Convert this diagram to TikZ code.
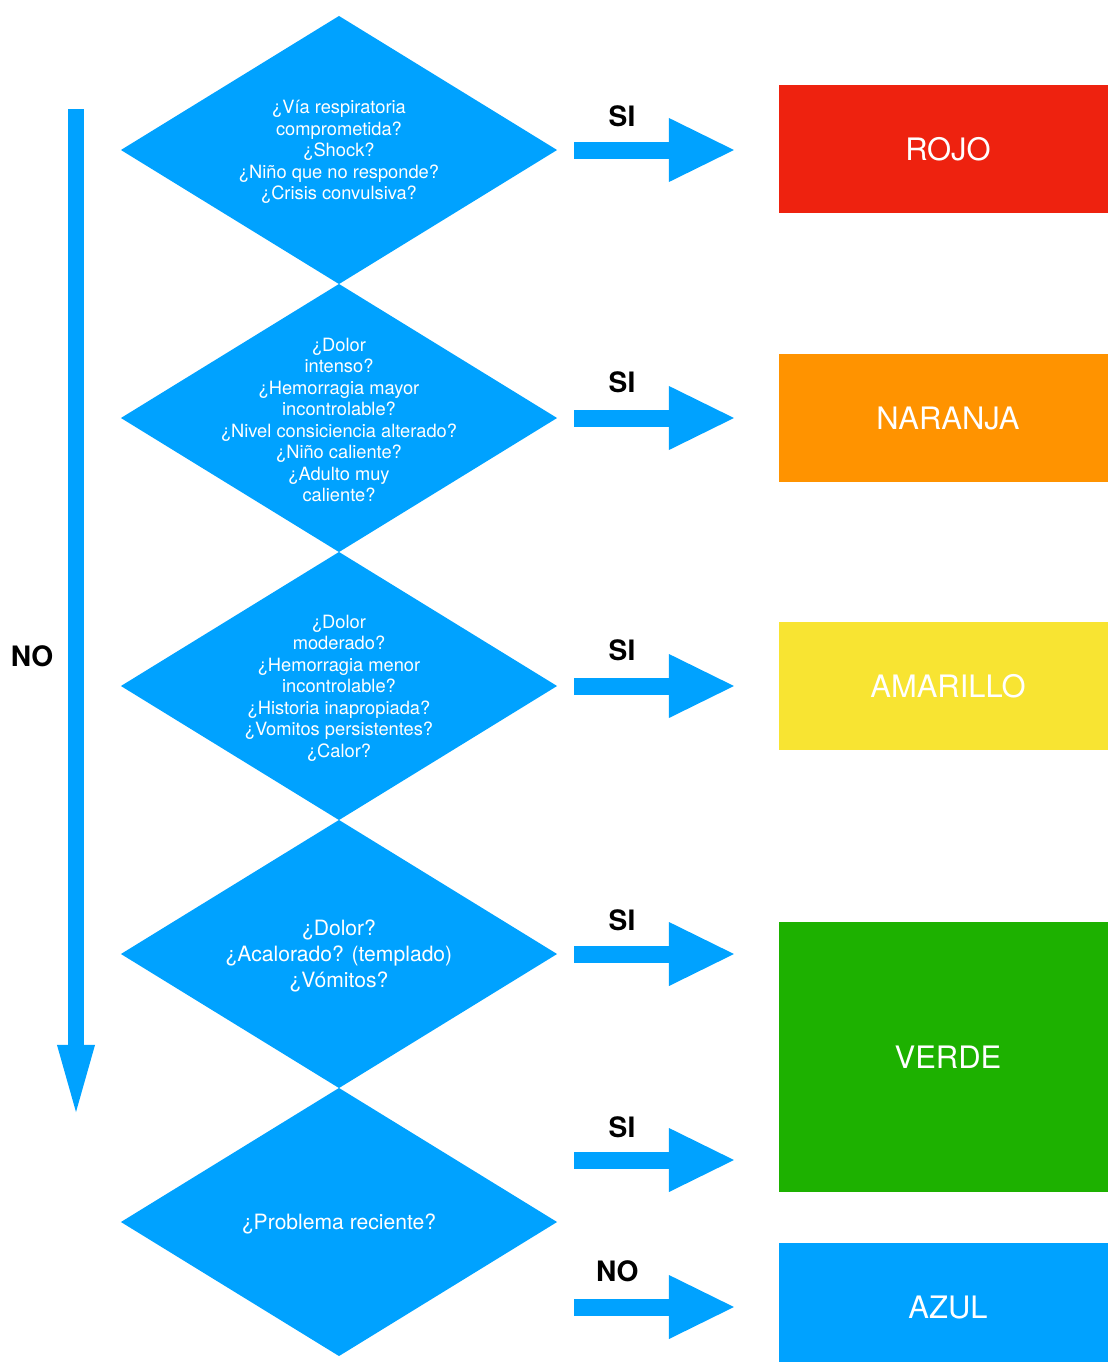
\documentclass[tikz,border=0pt]{standalone}
\usepackage{fontspec}
\setmainfont{TeX Gyre Heros}
\usetikzlibrary{shapes.geometric, arrows.meta, calc}
\definecolor{tri-blue}{HTML}{00A2FF}
\definecolor{tri-red}{HTML}{EE220F}
\definecolor{tri-orange}{HTML}{FF9300}
\definecolor{tri-yellow}{HTML}{F8E432}
\definecolor{tri-green}{HTML}{1DB100}
\tikzset{
    my-decision/.style={
        diamond, fill=tri-blue, minimum width=10.9cm, minimum height=6.7cm, inner sep=0pt, outer sep=0pt
    },
    my-question/.style={
        text=white, align=center, font=\fontsize{13}{15.3}\selectfont, yshift=-0.05cm
    },
    my-level/.style={
        rectangle, minimum width=8.45cm, minimum height=3.2cm, inner sep=0pt, outer sep=0pt,
        text=white, font=\fontsize{22}{26}\selectfont
    },
    my-fat-arrow/.style={
        draw=tri-blue, line width=0.425cm, -{Triangle[length=1.625cm, width=1.6cm, line width=0pt]}
    },
    my-down-arrow/.style={
        draw=tri-blue, line width=0.375cm, -{Triangle[length=1.675cm, width=0.95cm, line width=0pt]}
    },
    my-answer/.style={
        font=\bfseries\fontsize{20}{24}\selectfont
    },
}

\begin{document}
\begin{tikzpicture}[x=0.025cm, y=-0.025cm]

        \useasboundingbox (0, 0) rectangle (1107, 1362);

        % DECISIONS ------------------------------------------------------------------------------------
        \node[my-decision] (D1) at (339, 150)          {};
        \node[my-decision] (D2) at ($(D1) + (0, 268)$) {};
        \node[my-decision] (D3) at ($(D2) + (0, 268)$) {};
        \node[my-decision] (D4) at ($(D3) + (0, 268)$) {};
        \node[my-decision] (D5) at ($(D4) + (0, 268)$) {};

        % QUESTIONS
        \node[my-question] (D1TXT) at (D1) {¿Vía respiratoria\\comprometida?\\¿Shock?\\¿Niño que no responde?\\¿Crisis convulsiva?};
        \node[my-question] (D2TXT) at (D2) {¿Dolor\\intenso?\\¿Hemorragia mayor\\incontrolable?\\¿Nivel consiciencia alterado?\\¿Niño caliente?\\¿Adulto muy\\caliente?};
        \node[my-question] (D3TXT) at (D3) {¿Dolor\\moderado?\\¿Hemorragia menor\\incontrolable?\\¿Historia inapropiada?\\¿Vomitos persistentes?\\¿Calor?};
        \node[my-question, font=\fontsize{15}{18.8}\selectfont] (D4TXT) at (D4) {¿Dolor?\\¿Acalorado? (templado)\\¿Vómitos?};
        \node[my-question, font=\fontsize{15}{18.8}\selectfont] (D5TXT) at (D5) {¿Problema reciente?};

        % LEVELS ---------------------------------------------------------------------------------------
        \node[my-level, fill=tri-red]    (ROJO)     at (948, 149)  {ROJO};
        \node[my-level, fill=tri-orange] (NARANJA)  at (948, 418)  {NARANJA};
        \node[my-level, fill=tri-yellow] (AMARILLO) at (948, 686)  {AMARILLO};
        \node[my-level, fill=tri-green, minimum height=6.75cm] (VERDE) at (948, 1057) {VERDE};
        \node[my-level, fill=tri-blue] (AZUL) at (948, 1307) {AZUL};

        % SI ARROWS ------------------------------------------------------------------------------------
        \draw[my-fat-arrow] ($(D1.east) + (17, 0)$) -- ($(ROJO.west |- D1.east) + (-45, 0)$)
            node[my-answer, pos=.3, yshift=0.85cm] {SI};
        \draw[my-fat-arrow] ($(D2.east) + (17, 0)$) -- ($(NARANJA.west |- D2.east) + (-45, 0)$)
            node[my-answer, pos=.3, yshift=0.9cm] {SI};
        \draw[my-fat-arrow] ($(D3.east) + (17, 0)$) -- ($(AMARILLO.west |- D3.east) + (-45, 0)$)
            node[my-answer, pos=.3, yshift=0.9cm] {SI};
        \draw[my-fat-arrow] ($(D4.east) + (17, 0)$) -- ($(VERDE.west |- D4.east) + (-45, 0)$)
            node[my-answer, pos=.3, yshift=0.85cm] {SI};
        \draw[my-fat-arrow] ($(D5.east) + (17, -62)$) -- ($(VERDE.west |- D5.east) + (-45, -62)$)
            node[my-answer, pos=.3, yshift=0.825cm] {SI};

        % NO ARROWS ------------------------------------------------------------------------------------
        \draw[my-fat-arrow] ($(D5.east) + (17, 85)$) -- ($(AZUL.west |- D5.east) + (-45, 85)$)
            node[my-answer, pos=.27, yshift=0.9cm] {NO};

        \coordinate (NOTOP) at (76, 109);
        \coordinate (NOBOT) at (76, 1112);
        \draw[my-down-arrow] (NOTOP) -- (NOBOT);
        \node[my-answer] (NOLBL) at (32, 656) {NO};

\end{tikzpicture}
\end{document}
